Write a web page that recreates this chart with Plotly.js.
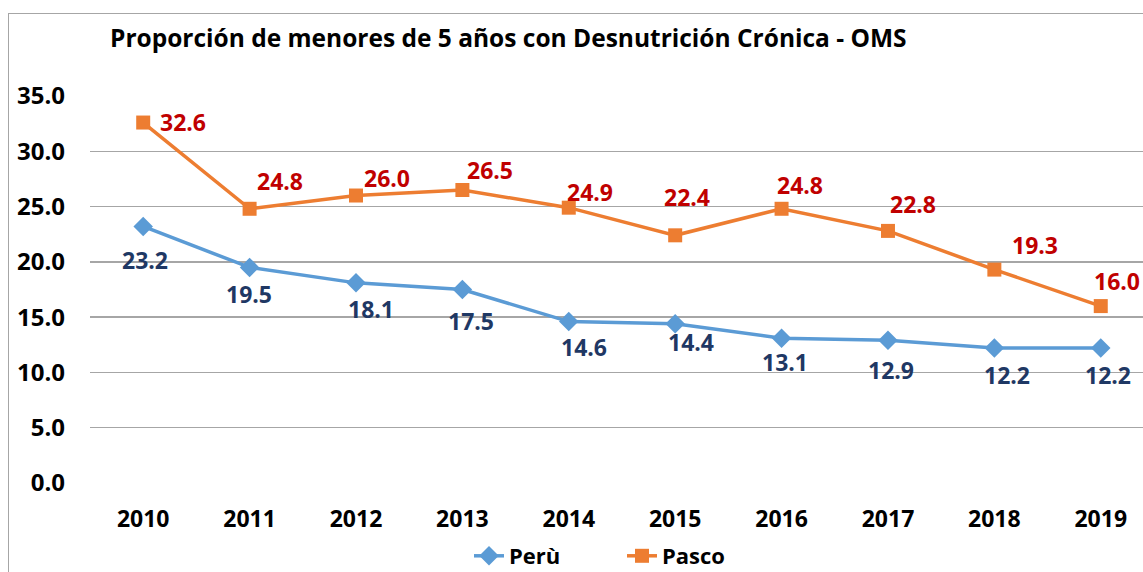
<!DOCTYPE html>
<html>
<head>
<meta charset="utf-8">
<script src="https://cdn.plot.ly/plotly-3.0.1.min.js"></script>
<style>
  html, body { margin: 0; padding: 0; background: #ffffff; }
  #wrap { position: relative; width: 1143px; height: 572px; overflow: hidden; }
  #chart { position: absolute; left: 0; top: 0; width: 1143px; height: 572px; }
  #frame { position: absolute; left: 8px; top: 13px; width: 1200px; height: 600px;
           border-left: 1.5px solid #a6a6a6; border-top: 1.5px solid #a6a6a6; pointer-events: none; }
</style>
</head>
<body>
<div id="wrap">
  <div id="chart"></div>
  <div id="frame"></div>
</div>
<script>
const years = ["2010","2011","2012","2013","2014","2015","2016","2017","2018","2019"];
const peru  = [23.2, 19.5, 18.1, 17.5, 14.6, 14.4, 13.1, 12.9, 12.2, 12.2];
const pasco = [32.6, 24.8, 26.0, 26.5, 24.9, 22.4, 24.8, 22.8, 19.3, 16.0];
const yTicks = [0, 5, 10, 15, 20, 25, 30, 35];
const titleText = "Proporción de menores de 5 años con Desnutrición Crónica - OMS";

// label offsets (pixels) relative to each point
const peruShiftX  = [2, -1, 15, 9, 15.5, 15.5, 3, 3, 12.5, 7];
const peruShiftY  = [-33.5, -26.5, -26, -31, -25.5, -18.5, -23.5, -29.5, -26.5, -26.5];
const pascoShiftX = [40, 30, 31.5, 27.5, 21, 12, 18.5, 25.5, 41, 16.5];
const pascoShiftY = [1, 28, 17.5, 19.5, 16, 38, 23.5, 26.5, 25, 25.5];

const FONT = "'Open Sans', 'Noto Sans', sans-serif";

const traces = [
  {
    x: years, y: peru, name: "Perù", type: "scatter", mode: "lines+markers",
    line: { color: "#5B9BD5", width: 3.5 },
    marker: { symbol: "diamond", size: 15, color: "#5B9BD5" }
  },
  {
    x: years, y: pasco, name: "Pasco", type: "scatter", mode: "lines+markers",
    line: { color: "#ED7D31", width: 3.5 },
    marker: { symbol: "square", size: 14, color: "#ED7D31" }
  }
];

const annotations = [];
for (let i = 0; i < years.length; i++) {
  annotations.push({
    xref: "x", yref: "y", x: i, y: peru[i], text: peru[i].toFixed(1), showarrow: false,
    xshift: peruShiftX[i], yshift: peruShiftY[i],
    font: { family: FONT, size: 23, color: "#1F3864", weight: "bold" }
  });
  annotations.push({
    xref: "x", yref: "y", x: i, y: pasco[i], text: pasco[i].toFixed(1), showarrow: false,
    xshift: pascoShiftX[i], yshift: pascoShiftY[i],
    font: { family: FONT, size: 23, color: "#C00000", weight: "bold" }
  });
}

const layout = {
  width: 1143, height: 572,
  margin: { l: 90, r: 0, t: 96, b: 89 },
  paper_bgcolor: "rgba(0,0,0,0)", plot_bgcolor: "rgba(0,0,0,0)",
  font: { family: FONT, size: 23, color: "#000000", weight: "bold" },
  title: {
    text: titleText, xref: "container", yref: "container",
    x: 110 / 1143, xanchor: "left", y: 1 - 38 / 572, yanchor: "middle",
    font: { family: FONT, size: 24.5, color: "#000000", weight: "bold" }
  },
  xaxis: {
    type: "category", range: [-0.5, 9.397], automargin: false,
    showgrid: false, zeroline: false, showline: false, ticks: "",
    ticklabelstandoff: 20,
    tickfont: { family: FONT, size: 23, color: "#000000", weight: "bold" }
  },
  yaxis: {
    range: [0, 35], tickvals: yTicks, ticktext: yTicks.map(v => v.toFixed(1)),
    automargin: false,
    showgrid: true, gridcolor: "#a6a6a6", gridwidth: 1.5,
    zeroline: false, showline: false, ticks: "",
    ticklabelstandoff: 24,
    tickfont: { family: FONT, size: 24, color: "#000000", weight: "bold" }
  },
  showlegend: true,
  legend: {
    orientation: "h", xref: "container", yref: "container",
    x: 622 / 1143, xanchor: "center",
    y: 1 - 556 / 572, yanchor: "middle",
    entrywidth: 108,
    font: { family: FONT, size: 22, color: "#000000", weight: "bold" }
  },
  annotations: annotations
};

Plotly.newPlot("chart", traces, layout, { staticPlot: true, displayModeBar: false });
</script>
</body>
</html>
